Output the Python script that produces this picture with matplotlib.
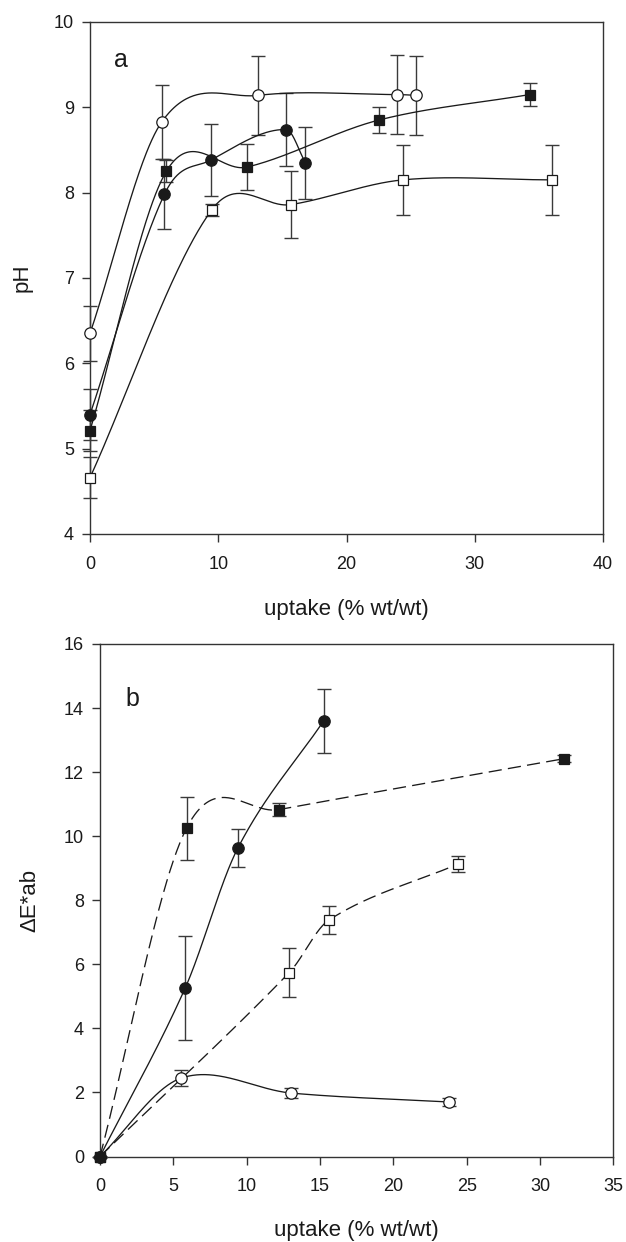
import numpy as np
import matplotlib
matplotlib.use("Agg")
import matplotlib.pyplot as plt

plt.rcParams['font.family'] = ['Liberation Sans', 'DejaVu Sans']
plt.rcParams['lines.scale_dashes'] = False

# ---- panel a: pH vs uptake ----
a_oc_x = [0.0, 5.6, 13.1, 23.9, 25.45]
a_oc_y = [6.35, 8.83, 9.14, 9.15, 9.14]
a_oc_e = [0.32, 0.43, 0.46, 0.46, 0.46]

a_fc_x = [0.0, 5.8, 9.4, 15.3, 16.8]
a_fc_y = [5.40, 7.98, 8.38, 8.74, 8.35]
a_fc_e = [0.30, 0.41, 0.42, 0.43, 0.42]

a_fs_x = [0.0, 5.95, 12.25, 22.5, 34.3]
a_fs_y = [5.21, 8.25, 8.30, 8.85, 9.15]
a_fs_e = [0.24, 0.13, 0.27, 0.15, 0.13]

a_os_x = [0.0, 9.5, 15.65, 24.4, 36.0]
a_os_y = [4.66, 7.80, 7.86, 8.15, 8.15]
a_os_e = [0.24, 0.07, 0.39, 0.41, 0.41]

# ---- panel b: colour difference vs uptake ----
b_fc_x = [0.0, 5.8, 9.4, 15.25]
b_fc_y = [0.0, 5.25, 9.63, 13.60]
b_fc_e = [0.0, 1.62, 0.60, 1.00]

b_fs_x = [0.0, 5.9, 12.2, 31.65]
b_fs_y = [0.0, 10.25, 10.83, 12.42]
b_fs_e = [0.0, 0.98, 0.20, 0.10]

b_os_x = [0.0, 12.9, 15.6, 24.4]
b_os_y = [0.0, 5.74, 7.38, 9.13]
b_os_e = [0.0, 0.77, 0.44, 0.25]

b_oc_x = [0.0, 5.55, 13.05, 23.8]
b_oc_y = [0.0, 2.45, 1.98, 1.70]
b_oc_e = [0.0, 0.25, 0.16, 0.12]

a_xticks = [0, 10, 20, 30, 40]
a_yticks = [4, 5, 6, 7, 8, 9, 10]
b_xticks = [0, 5, 10, 15, 20, 25, 30, 35]
b_yticks = [0, 2, 4, 6, 8, 10, 12, 14, 16]


def smooth_curve(x, y, per_seg=80):
    """Piecewise cubic Hermite curve through the points (Catmull-Rom tangents)."""
    x = np.asarray(x, float)
    y = np.asarray(y, float)
    k = len(x)
    m = np.zeros(k)
    m[0] = (y[1] - y[0]) / (x[1] - x[0])
    m[-1] = (y[-1] - y[-2]) / (x[-1] - x[-2])
    for i in range(1, k - 1):
        m[i] = (y[i + 1] - y[i - 1]) / (x[i + 1] - x[i - 1])
    t = np.linspace(0, 1, per_seg)
    h00 = 2 * t ** 3 - 3 * t ** 2 + 1
    h10 = t ** 3 - 2 * t ** 2 + t
    h01 = -2 * t ** 3 + 3 * t ** 2
    h11 = t ** 3 - t ** 2
    xs, ys = [], []
    for i in range(k - 1):
        h = x[i + 1] - x[i]
        xs.append(x[i] + t * h)
        ys.append(h00 * y[i] + h10 * h * m[i] + h01 * y[i + 1] + h11 * h * m[i + 1])
    return np.concatenate(xs), np.concatenate(ys)


INK = '#1a1a1a'
ECOL = '#3a3a3a'


def series(ax, x, y, e, marker, filled, dashed=False, z=3):
    ax.errorbar(x, y, yerr=e, fmt='none', ecolor=ECOL, elinewidth=1.0,
                capsize=5.3, capthick=1.0, zorder=z, clip_on=False)
    xs, ys = smooth_curve(x, y)
    line, = ax.plot(xs, ys, color=INK, lw=0.95, zorder=z + 1)
    if dashed:
        line.set_dashes((9.5, 4.5))
    ax.plot(x, y, linestyle='none', marker=marker,
            ms=8.2 if marker == 'o' else 7.8,
            mfc=INK if filled else 'white', mec=INK, mew=0.9,
            zorder=z + 2, clip_on=False)


def style(ax, xlim, ylim, xt, yt):
    ax.set_xlim(*xlim)
    ax.set_ylim(*ylim)
    ax.set_xticks(xt)
    ax.set_yticks(yt)
    for s in ax.spines.values():
        s.set_color('#333333')
        s.set_linewidth(1.0)
    ax.tick_params(axis='both', direction='out', length=5.5, width=1.0,
                   color='#333333', labelsize=13, labelcolor=INK,
                   top=False, right=False)
    ax.tick_params(axis='x', pad=10)
    ax.tick_params(axis='y', pad=6)


fig = plt.figure(figsize=(6.26, 12.42), dpi=100)
ax1 = fig.add_axes([90 / 626, 1 - 534 / 1242, 513 / 626, 512 / 1242])
ax2 = fig.add_axes([100 / 626, 1 - 1156.5 / 1242, 513.3 / 626, 512.5 / 1242])

series(ax1, a_os_x, a_os_y, a_os_e, 's', False)
series(ax1, a_fs_x, a_fs_y, a_fs_e, 's', True)
series(ax1, a_fc_x, a_fc_y, a_fc_e, 'o', True)
series(ax1, a_oc_x, a_oc_y, a_oc_e, 'o', False)
style(ax1, (0, 40), (4, 10), a_xticks, a_yticks)
ax1.set_xlabel('uptake (% wt/wt)', fontsize=16, color=INK, va='center')
ax1.xaxis.set_label_coords(0.5, -0.148)
ax1.set_ylabel('pH', fontsize=16, color=INK, va='center')
ax1.yaxis.set_label_coords(-0.1326, 0.5)
ax1.text(0.06, 0.926, 'a', transform=ax1.transAxes, fontsize=18,
         color=INK, ha='center', va='center')

series(ax2, b_oc_x, b_oc_y, b_oc_e, 'o', False)
series(ax2, b_os_x, b_os_y, b_os_e, 's', False, dashed=True)
series(ax2, b_fc_x, b_fc_y, b_fc_e, 'o', True)
series(ax2, b_fs_x, b_fs_y, b_fs_e, 's', True, dashed=True)
style(ax2, (0, 35), (0, 16), b_xticks, b_yticks)
ax2.set_xlabel('uptake (% wt/wt)', fontsize=16, color=INK, va='center')
ax2.xaxis.set_label_coords(0.5, -0.145)
ax2.set_ylabel('ΔE*ab', fontsize=16, color=INK, va='center')
ax2.yaxis.set_label_coords(-0.136, 0.5)
ax2.text(0.063, 0.893, 'b', transform=ax2.transAxes, fontsize=18,
         color=INK, ha='center', va='center')

fig.savefig('out.png', dpi=100, facecolor='white')
